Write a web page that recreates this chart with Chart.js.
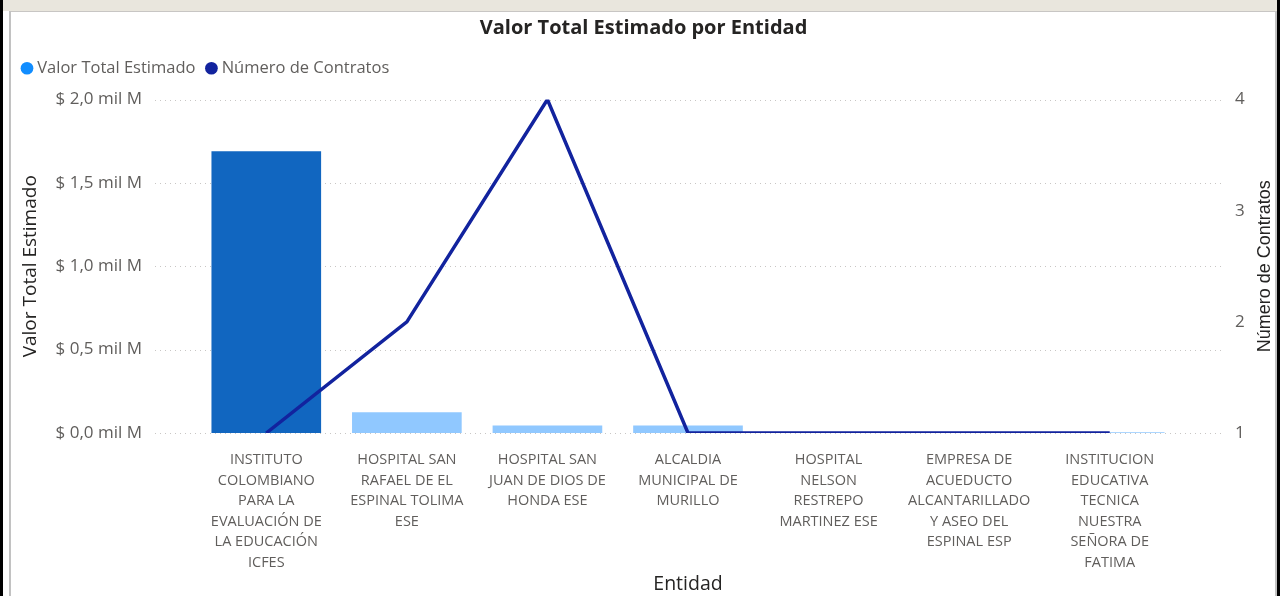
<!DOCTYPE html>
<html>
<head>
<meta charset="utf-8">
<script src="https://cdn.jsdelivr.net/npm/chart.js@4"></script>
<style>
  body { margin: 0; width: 1286px; height: 596px; overflow: hidden; background: #fff; position: relative; }
  .frame { position: absolute; }
  #chart { position: absolute; left: 0; top: 0; }
</style>
</head>
<body>
<div class="frame" style="left:0;top:0;width:3px;height:596px;background:#000"></div>
<div class="frame" style="left:3px;top:0;width:1274px;height:11px;background:#E9E6DD"></div>
<div class="frame" style="left:10px;top:11px;width:1266px;height:1px;background:#C8C6C4"></div>
<div class="frame" style="left:9px;top:11px;width:2px;height:585px;background:#C2C2C2"></div>
<div class="frame" style="left:1275px;top:11px;width:2px;height:585px;background:#C2C2C2"></div>
<div class="frame" style="left:1277px;top:0;width:3px;height:596px;background:#000"></div>
<canvas id="chart" width="1286" height="596"></canvas>
<script>
// Valor Total Estimado por Entidad
const entidades = [
  ["INSTITUTO", "COLOMBIANO", "PARA LA", "EVALUACIÓN DE", "LA EDUCACIÓN", "ICFES"],
  ["HOSPITAL SAN", "RAFAEL DE EL", "ESPINAL TOLIMA", "ESE"],
  ["HOSPITAL SAN", "JUAN DE DIOS DE", "HONDA ESE"],
  ["ALCALDIA", "MUNICIPAL DE", "MURILLO"],
  ["HOSPITAL", "NELSON", "RESTREPO", "MARTINEZ ESE"],
  ["EMPRESA DE", "ACUEDUCTO", "ALCANTARILLADO", "Y ASEO DEL", "ESPINAL ESP"],
  ["INSTITUCION", "EDUCATIVA", "TECNICA", "NUESTRA", "SEÑORA DE", "FATIMA"]
];
// en mil millones de pesos
const valorTotal = [1.69, 0.125, 0.045, 0.045, 0.001, 0.001, 0.005];
const numContratos = [1, 2, 4, 1, 1, 1, 1];
const coloresBarras = ["#1166C0", "#90C8FF", "#90C8FF", "#90C8FF", "#90C8FF", "#90C8FF", "#90C8FF"];
const coloresLeyenda = ["#118DFF", "#12239E"];

const fuente = "'Segoe UI', 'Open Sans', 'Noto Sans', sans-serif";
const gris = "#605E5C";

// lineas punteadas mas anchas que el area del grafico + titulo eje derecho
const extras = {
  id: 'extras',
  afterInit(chart) {
    // espacio extra debajo de la leyenda
    const leg = chart.legend;
    if (leg) {
      const fit = leg.fit;
      leg.fit = function () { fit.call(this); this.height += 13; };
    }
  },
  beforeDatasetsDraw(chart) {
    const ctx = chart.ctx;
    const area = chart.chartArea;
    const y = chart.scales.y;
    ctx.save();
    ctx.strokeStyle = '#C8C6C4';
    ctx.lineWidth = 1;
    ctx.setLineDash([1, 4]);
    y.ticks.forEach(t => {
      const py = Math.round(y.getPixelForValue(t.value)) + 0.5;
      ctx.beginPath();
      ctx.moveTo(area.left - 41, py);
      ctx.lineTo(area.right + 42, py);
      ctx.stroke();
    });
    ctx.restore();
  },
  afterDraw(chart) {
    const ctx = chart.ctx;
    const area = chart.chartArea;
    ctx.save();
    ctx.translate(1265, (area.top + area.bottom) / 2);
    ctx.rotate(-Math.PI / 2);
    ctx.fillStyle = '#252423';
    ctx.font = "18px 'Liberation Sans', Arial, sans-serif";
    ctx.textAlign = 'center';
    ctx.textBaseline = 'middle';
    ctx.fillText('Número de Contratos', 0, 0);
    ctx.restore();
  }
};

new Chart(document.getElementById('chart'), {
  data: {
    labels: entidades,
    datasets: [
      {
        type: 'bar',
        label: 'Valor Total Estimado',
        data: valorTotal,
        backgroundColor: coloresBarras,
        yAxisID: 'y',
        order: 2,
        categoryPercentage: 0.78,
        barPercentage: 1
      },
      {
        type: 'line',
        label: 'Número de Contratos',
        data: numContratos,
        borderColor: '#12239E',
        backgroundColor: '#12239E',
        borderWidth: 3.5,
        pointRadius: 0,
        tension: 0,
        yAxisID: 'y1',
        order: 1
      }
    ]
  },
  options: {
    responsive: false,
    animation: false,
    layout: { padding: { left: 11, right: 10, top: 13, bottom: 0 } },
    plugins: {
      title: {
        display: true,
        text: 'Valor Total Estimado por Entidad',
        color: '#252423',
        font: { family: fuente, size: 20, weight: 'bold' },
        padding: { top: 3, bottom: 6 }
      },
      legend: {
        position: 'top',
        align: 'start',
        labels: {
          usePointStyle: true,
          boxWidth: 4,
          boxHeight: 9,
          padding: 14,
          color: gris,
          font: { family: fuente, size: 16.5 },
          generateLabels(chart) {
            const items = Chart.defaults.plugins.legend.labels.generateLabels(chart);
            items.sort((a, b) => a.datasetIndex - b.datasetIndex);
            items.forEach(it => {
              it.pointStyle = 'circle';
              it.lineWidth = 0;
              it.fillStyle = coloresLeyenda[it.datasetIndex];
              it.strokeStyle = it.fillStyle;
            });
            return items;
          }
        }
      },
      tooltip: { enabled: false }
    },
    scales: {
      x: {
        grid: { display: false, drawTicks: false },
        border: { display: false },
        ticks: {
          color: gris,
          padding: 17,
          maxRotation: 0,
          autoSkip: false,
          font: { family: fuente, size: 14.5, lineHeight: 1.41 }
        },
        title: {
          display: true,
          text: 'Entidad',
          color: '#252423',
          font: { family: fuente, size: 19.5 },
          padding: { top: 0, bottom: 0 }
        },
        afterFit(scale) { scale.height = 163; }
      },
      y: {
        position: 'left',
        min: 0,
        max: 2,
        grid: { display: false, drawTicks: false },
        border: { display: false },
        ticks: {
          stepSize: 0.5,
          color: gris,
          padding: 54,
          font: { family: fuente, size: 17 },
          callback: v => '$ ' + v.toFixed(1).replace('.', ',') + ' mil M'
        },
        title: {
          display: true,
          text: 'Valor Total Estimado',
          color: '#252423',
          font: { family: fuente, size: 19 },
          padding: { top: 8, bottom: 0 }
        },
        afterFit(scale) { scale.width = 185; }
      },
      y1: {
        position: 'right',
        min: 1,
        max: 4,
        grid: { display: false, drawTicks: false },
        border: { display: false },
        ticks: {
          stepSize: 1,
          color: gris,
          padding: 55,
          font: { family: fuente, size: 17 }
        },
        afterFit(scale) { scale.width = 96; }
      }
    }
  },
  plugins: [extras]
});
</script>
</body>
</html>
